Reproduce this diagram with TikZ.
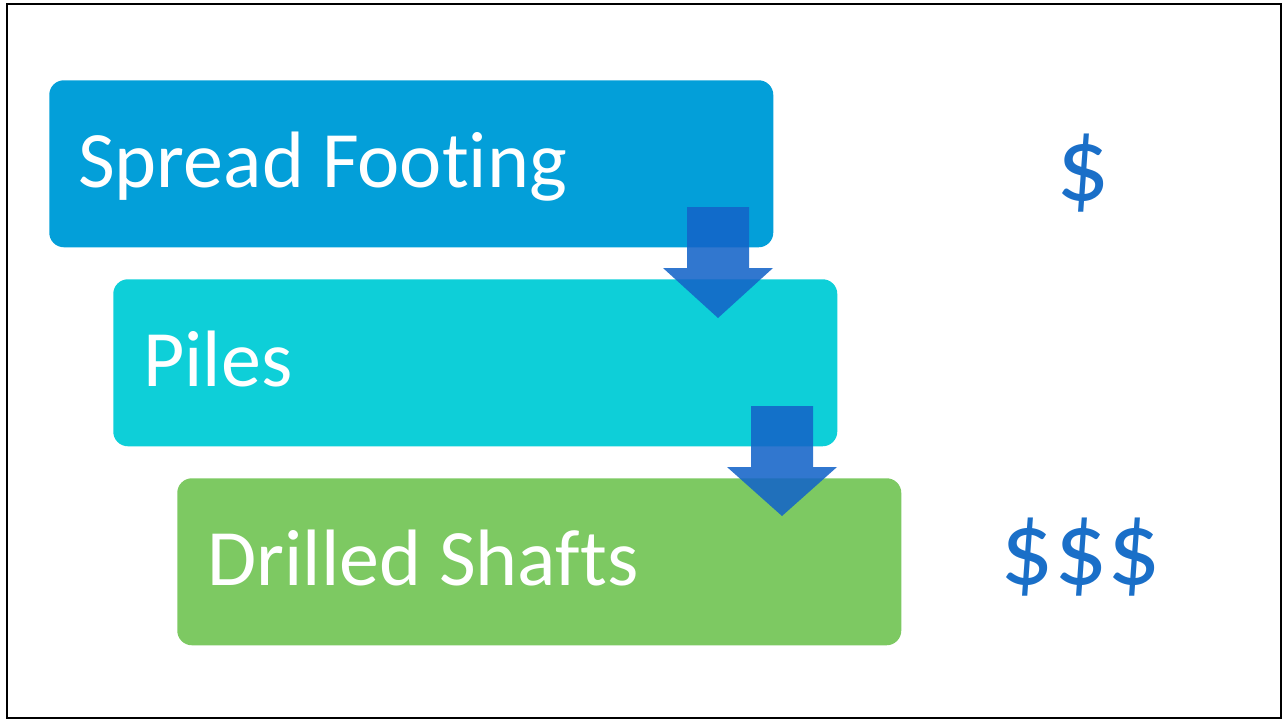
\documentclass[tikz,border=0pt]{standalone}
\usepackage{fontspec}
\setmainfont{Carlito}[Ligatures=NoCommon]
\definecolor{cone}{RGB}{3,159,217}
\definecolor{ctwo}{RGB}{14,207,216}
\definecolor{cthree}{RGB}{125,201,98}
\definecolor{carrow}{RGB}{20,100,200}
\definecolor{cdollar}{RGB}{26,111,200}
\begin{document}
\begin{tikzpicture}[x=0.75pt,y=-0.75pt,
  box/.style={rectangle, rounded corners=11pt, inner sep=0pt, minimum width=543pt, minimum height=125.25pt, anchor=north west},
  lbl/.style={anchor=base west, inner sep=0pt, text=white, font=\fontsize{60}{62}\selectfont},
  dollar/.style={inner sep=0pt, text=cdollar, font=\fontsize{79}{80}\selectfont},
  blockarrow/.style={fill=carrow, fill opacity=0.88}]
\useasboundingbox (0,0) rectangle (1284,721);
\draw[line width=1.5pt] (7,4) rectangle (1281,718);
\node[box, fill=cone] (b1) at (49,80) {};
\node[box, fill=ctwo] (b2) at (113,279) {};
\node[box, fill=cthree] (b3) at (177,478) {};
\node[lbl] (t1) at (78,187) {Spread Footing};
\node[lbl] (t2) at (143,386) {Piles};
\node[lbl] (t3) at (207,585) {Drilled Shafts};
\coordinate (a1) at (718,207);
\coordinate (a2) at (782,406);
\fill[blockarrow] (a1) ++(-31,0) -- ++(62,0) -- ++(0,61) -- ++(24,0) -- ++(-55,50) -- ++(-55,-50) -- ++(24,0) -- cycle;
\fill[blockarrow] (a2) ++(-31,0) -- ++(62,0) -- ++(0,61) -- ++(24,0) -- ++(-55,49) -- ++(-55,-49) -- ++(24,0) -- cycle;
\node[dollar] (d1) at (1083,173) {\$};
\node[dollar] (d3) at (1081,557) {\$\$\$};
\end{tikzpicture}
\end{document}
